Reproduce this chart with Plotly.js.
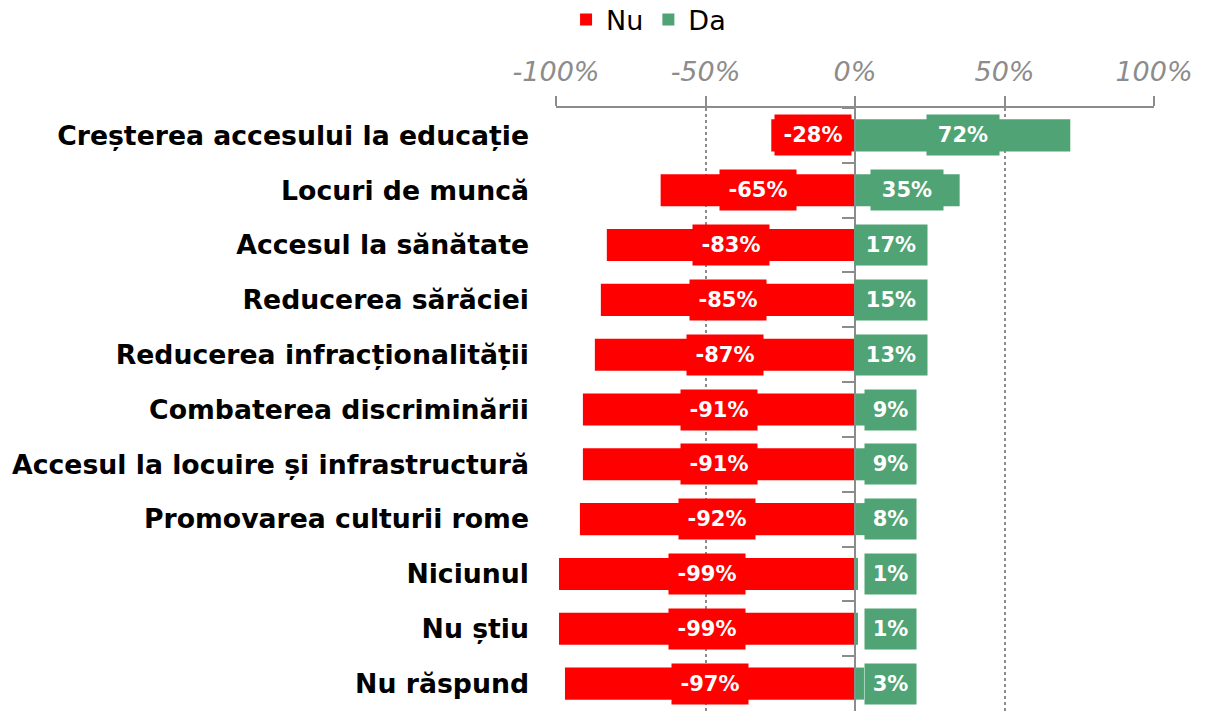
<!DOCTYPE html>
<html>
<head>
<meta charset="utf-8">
<script src="https://cdn.plot.ly/plotly-3.0.1.min.js"></script>
<style>html,body{margin:0;padding:0;background:#fff;}#chart{width:1210px;height:711px;}</style>
</head>
<body>
<div id="chart"></div>
<script>
const categories = [
  "Creșterea accesului la educație",
  "Locuri de muncă",
  "Accesul la sănătate",
  "Reducerea sărăciei",
  "Reducerea infracționalității",
  "Combaterea discriminării",
  "Accesul la locuire și infrastructură",
  "Promovarea culturii rome",
  "Niciunul",
  "Nu știu",
  "Nu răspund"
];
const nuValues = [-28, -65, -83, -85, -87, -91, -91, -92, -99, -99, -97];
const daValues = [72, 35, 17, 15, 13, 9, 9, 8, 1, 1, 3];
const tickVals = [-100, -50, 0, 50, 100];
const tickText = ["-100%", "-50%", "0%", "50%", "100%"];

const RED = "#FF0000";
const GREEN = "#4FA374";
const GRAY = "#8C8C8C";
const labelFont = {family: "DejaVu Sans", size: 21, color: "#FFFFFF", weight: "bold"};

const traces = [
  {type: "bar", orientation: "h", name: "Nu", x: nuValues, y: categories,
   marker: {color: RED}, width: 0.585, hoverinfo: "skip"},
  {type: "bar", orientation: "h", name: "Da", x: daValues, y: categories,
   marker: {color: GREEN}, width: 0.585, hoverinfo: "skip"},
  {type: "scatter", mode: "markers", x: categories.map(() => 0), y: categories,
   yaxis: "y2", marker: {opacity: 0}, showlegend: false, hoverinfo: "skip"}
];

const annotations = [];
categories.forEach((c, i) => {
  annotations.push({x: nuValues[i] / 2, y: c, xref: "x", yref: "y", showarrow: false,
    text: "<b>" + nuValues[i] + "%</b>", font: labelFont, bgcolor: RED,
    width: 68, height: 32, borderpad: 4, xanchor: "center", yanchor: "middle"});
  const t = daValues[i] + "%";
  annotations.push({x: Math.max(daValues[i] / 2, 12), y: c, xref: "x", yref: "y", showarrow: false,
    text: "<b>" + t + "</b>", font: labelFont, bgcolor: GREEN,
    width: t.length > 2 ? 64 : 43, height: 32, borderpad: 4, xanchor: "center", yanchor: "middle"});
});

const layout = {
  width: 1210, height: 711,
  margin: {l: 556, r: 56, t: 108, b: 0},
  paper_bgcolor: "#FFFFFF", plot_bgcolor: "#FFFFFF",
  barmode: "relative",
  showlegend: true,
  legend: {orientation: "h", xref: "container", yref: "container", x: 0.536, y: 0.972,
    xanchor: "center", yanchor: "middle", font: {family: "DejaVu Sans", size: 27, color: "#000"},
    itemwidth: 30, traceorder: "normal"},
  xaxis: {side: "top", range: [-100, 100], tickvals: tickVals, ticktext: tickText,
    tickfont: {family: "DejaVu Sans", size: 27, color: GRAY, style: "italic"},
    showline: true, linecolor: GRAY, linewidth: 2,
    ticks: "outside", ticklen: 10, tickwidth: 2, tickcolor: GRAY,
    ticklabelstandoff: 4,
    showgrid: true, gridcolor: GRAY, gridwidth: 2, griddash: "dot",
    zeroline: false, fixedrange: true},
  yaxis: {type: "category", categoryorder: "array", categoryarray: categories,
    range: [10.5, -0.5], showgrid: false, zeroline: false, showline: false,
    ticks: "", ticklabelstandoff: 26,
    tickfont: {family: "DejaVu Sans", size: 26.7, color: "#000", weight: "bold"}, fixedrange: true},
  yaxis2: {type: "category", categoryorder: "array", categoryarray: categories,
    range: [10.5, -0.5], overlaying: "y", anchor: "free", position: 0.5,
    showticklabels: false, showgrid: false, zeroline: false,
    showline: true, linecolor: GRAY, linewidth: 2,
    ticks: "outside", tickson: "boundaries", ticklen: 12, tickwidth: 2, tickcolor: GRAY,
    fixedrange: true},
  annotations: annotations
};

Plotly.newPlot("chart", traces, layout, {displayModeBar: false, staticPlot: true});
</script>
</body>
</html>
